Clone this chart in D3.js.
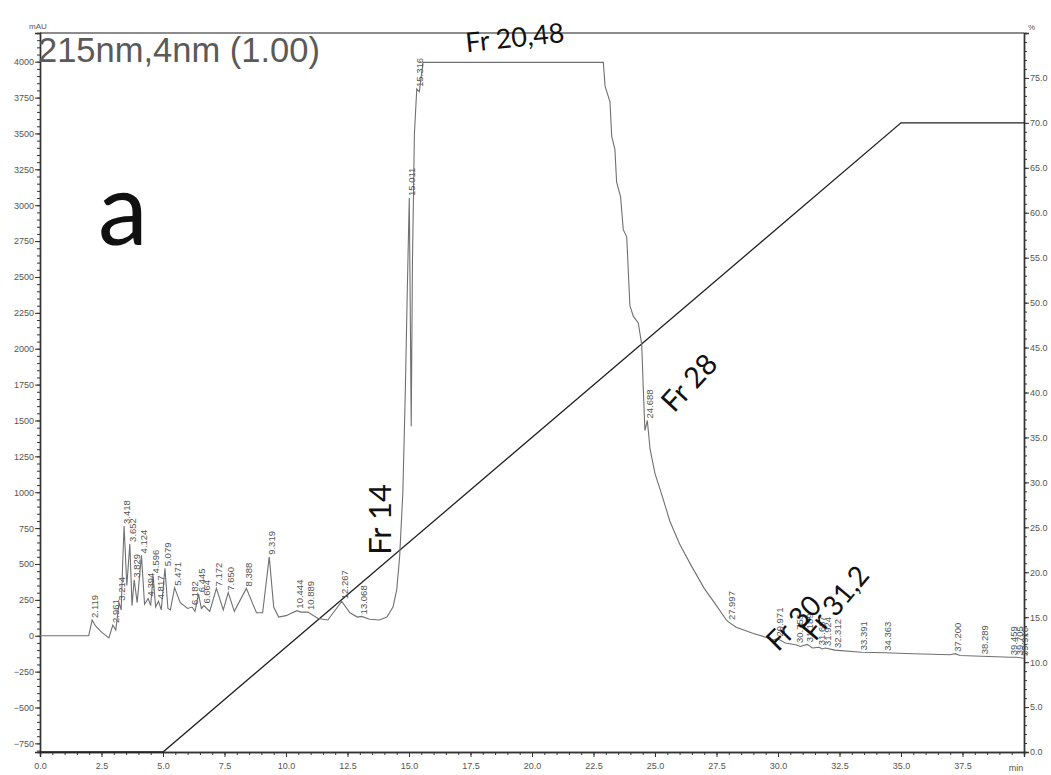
<!DOCTYPE html>
<html>
<head>
<meta charset="utf-8">
<script src="https://cdn.jsdelivr.net/npm/d3@7"></script>
<style>
  html, body { margin: 0; padding: 0; background: #fff; }
  svg { display: block; }
</style>
</head>
<body>
<svg id="chart" width="1051" height="775"></svg>
<script>
// Chromatogram trace: retention time (min) and detector signal (mAU)
const traceTime = [
  0, 1.98, 2.03, 2.119, 2.25, 2.5, 2.8, 2.961, 3.08, 3.214, 3.3, 3.36, 3.418, 3.53, 3.652, 3.74,
  3.829, 3.95, 4.124, 4.25, 4.394, 4.5, 4.596, 4.7, 4.817, 4.93, 5.079, 5.2, 5.3, 5.471, 5.7, 6.0,
  6.182, 6.3, 6.445, 6.56, 6.664, 6.9, 7.172, 7.45, 7.65, 7.9, 8.388, 8.8, 9.05, 9.319, 9.5, 9.7,
  10.0, 10.444, 10.6, 10.889, 11.3, 11.7, 12.267, 12.6, 12.9, 13.068, 13.4, 13.8, 14.1, 14.35,
  14.5, 14.62, 14.75, 14.85, 14.93, 15.011, 15.05, 15.09, 15.14, 15.22, 15.316, 15.42, 15.5, 15.57,
  22.9, 22.97, 23.17, 23.24, 23.37, 23.44, 23.6, 23.71, 23.85, 23.98, 24.12, 24.32, 24.46, 24.52,
  24.59, 24.688, 24.8, 25.0, 25.3, 25.6, 26.0, 26.5, 27.0, 27.5, 27.9, 27.997, 28.3, 29.0, 29.5,
  29.8, 29.971, 30.3, 30.755, 30.9, 31.189, 31.4, 31.667, 31.8, 31.924, 32.312, 33.391, 34.363,
  35.5, 37.0, 37.2, 37.4, 38.289, 39.459, 39.705, 39.916, 40
];
const traceSignal = [
  0, 0, 40, 110, 70, 25, -15, 75, 40, 230, 180, 500, 765, 350, 640, 210,
  390, 230, 560, 220, 260, 210, 420, 200, 240, 180, 470, 190, 180, 335, 230, 190,
  200, 170, 290, 190, 210, 170, 330, 180, 300, 170, 330, 160, 160, 550, 200, 130,
  140, 175, 165, 165, 120, 110, 240, 160, 130, 135, 115, 110, 130, 200,
  320, 550, 1000, 1700, 2400, 3050, 2300, 1460, 2600, 3500, 3810, 3790, 3900, 3995,
  3995, 3830, 3720, 3480, 3390, 3160, 3060, 2830, 2780, 2300, 2225, 2180, 2030, 1740,
  1430, 1500, 1300, 1130, 970, 800, 640, 480, 330, 210, 110, 95, 60, 15, -10,
  -30, -20, -50, -65, -75, -60, -85, -80, -92, -85, -100, -115, -118,
  -125, -132, -125, -138, -143, -150, -150, -155, -158
];

// Integrated peaks (retention times printed above each peak)
const peakTimes = [
  2.119, 2.961, 3.214, 3.418, 3.652, 3.829, 4.124, 4.394, 4.596, 4.817, 5.079, 5.471,
  6.182, 6.445, 6.664, 7.172, 7.650, 8.388, 9.319, 10.444, 10.889, 12.267, 13.068,
  15.011, 15.316, 24.688, 27.997, 29.971, 30.755, 31.189, 31.667, 31.924, 32.312,
  33.391, 34.363, 37.200, 38.289, 39.459, 39.705, 39.916
];

// Solvent B gradient program (min, %)
const gradTime = [0, 5.0, 35.0, 40.0];
const gradPercent = [0, 0, 70, 70];

// Axis ticks
const timeTicks = [0, 2.5, 5, 7.5, 10, 12.5, 15, 17.5, 20, 22.5, 25, 27.5, 30, 32.5, 35, 37.5];
const signalTicks = [-750, -500, -250, 0, 250, 500, 750, 1000, 1250, 1500, 1750, 2000, 2250, 2500,
  2750, 3000, 3250, 3500, 3750, 4000];
const percentTicks = [0, 5, 10, 15, 20, 25, 30, 35, 40, 45, 50, 55, 60, 65, 70, 75];

// Fraction annotations
const fractionLabels = ["Fr 20,48", "Fr 14", "Fr 28", "Fr 30", "Fr 31,2"];
const fractionTimes = [19.3, 13.8, 26.35, 30.6, 32.3];
const fractionSignals = [4175, 810, 1770, 95, 235];
const fractionAngles = [-6, -90, -47, -45, -50];
const fractionSizes = [27, 31, 29, 28, 28];

const svg = d3.select("#chart");
const plotLeft = 40, plotRight = 1024, plotTop = 33, plotBottom = 752;

const x = d3.scaleLinear().domain([0, 40]).range([plotLeft, plotRight]);
const y = d3.scaleLinear().domain([-810, 4200]).range([plotBottom, plotTop]);
const yR = d3.scaleLinear().domain([0, 80]).range([plotBottom, plotTop]);

const tickFont = "'Liberation Sans', Arial, sans-serif";

function styleAxis(g) {
  g.selectAll("path").attr("stroke", "#333").attr("stroke-width", 1.4);
  g.selectAll("line").attr("stroke", "#333");
  g.selectAll("text").attr("fill", "#555").attr("font-size", 9).attr("font-family", tickFont);
}

// top frame line
svg.append("line")
  .attr("x1", plotLeft).attr("x2", plotRight).attr("y1", plotTop).attr("y2", plotTop)
  .attr("stroke", "#666").attr("stroke-width", 1.4);

// minor ticks
svg.append("g").attr("transform", `translate(${plotLeft},0)`)
  .call(d3.axisLeft(y).tickValues(d3.range(-800, 4201, 50)).tickSize(3).tickFormat(""))
  .call(styleAxis);
svg.append("g").attr("transform", `translate(0,${plotBottom})`)
  .call(d3.axisBottom(x).tickValues(d3.range(0, 40.01, 0.5)).tickSize(3).tickFormat(""))
  .call(styleAxis);
svg.append("g").attr("transform", `translate(${plotRight},0)`)
  .call(d3.axisRight(yR).tickValues(d3.range(0, 80.01, 1)).tickSize(3).tickFormat(""))
  .call(styleAxis);

// major ticks
svg.append("g").attr("transform", `translate(${plotLeft},0)`)
  .call(d3.axisLeft(y).tickValues(signalTicks).tickSize(5).tickPadding(1).tickFormat(d3.format("d")))
  .call(styleAxis);
svg.append("g").attr("transform", `translate(0,${plotBottom})`)
  .call(d3.axisBottom(x).tickValues(timeTicks).tickSize(5).tickPadding(6).tickFormat(d3.format(".1f")))
  .call(styleAxis);
svg.append("g").attr("transform", `translate(${plotRight},0)`)
  .call(d3.axisRight(yR).tickValues(percentTicks).tickSize(5).tickPadding(1).tickFormat(d3.format(".1f")))
  .call(styleAxis);

// axis unit labels
svg.append("text").attr("x", 29).attr("y", 29).text("mAU")
  .attr("font-family", tickFont).attr("font-size", 8).attr("fill", "#555");
svg.append("text").attr("x", 1028).attr("y", 30).text("%")
  .attr("font-family", tickFont).attr("font-size", 8).attr("fill", "#555");
svg.append("text").attr("x", 1016).attr("y", 771).attr("text-anchor", "middle").text("min")
  .attr("font-family", tickFont).attr("font-size", 9).attr("fill", "#555");

// gradient line
const gradLine = d3.line().x((d, i) => x(gradTime[i])).y((d, i) => yR(gradPercent[i]));
svg.append("path").datum(gradTime).attr("d", gradLine)
  .attr("fill", "none").attr("stroke", "#222").attr("stroke-width", 1.3);

// chromatogram
const traceLine = d3.line().x((d, i) => x(traceTime[i])).y((d, i) => y(traceSignal[i]));
svg.append("path").datum(traceTime).attr("d", traceLine)
  .attr("fill", "none").attr("stroke", "#707070").attr("stroke-width", 1.1);

// peak retention-time labels
const signalAt = t => {
  const i = traceTime.indexOf(t);
  if (i >= 0) return traceSignal[i];
  const j = d3.bisectLeft(traceTime, t);
  const t0 = traceTime[j - 1], t1 = traceTime[j];
  return traceSignal[j - 1] + (traceSignal[j] - traceSignal[j - 1]) * (t - t0) / (t1 - t0);
};
svg.append("g").selectAll("text").data(peakTimes).join("text")
  .attr("transform", d => `translate(${x(d) + 6},${y(signalAt(d)) - 2}) rotate(-90)`)
  .attr("font-family", tickFont).attr("font-size", 9.5).attr("fill", "#555")
  .text(d => d3.format(".3f")(d));

// detector channel title
svg.append("text").attr("x", 38).attr("y", 62).text("215nm,4nm (1.00)")
  .attr("font-family", tickFont).attr("font-size", 34.5).attr("fill", "#5a5a5a");

// panel letter
svg.append("text").attr("x", 98).attr("y", 245).text("a")
  .attr("font-family", "Lato, 'Open Sans', sans-serif").attr("font-size", 100).attr("fill", "#111");

// fraction annotations
svg.append("g").selectAll("text").data(fractionLabels).join("text")
  .attr("transform", (d, i) => `translate(${x(fractionTimes[i])},${y(fractionSignals[i])}) rotate(${fractionAngles[i]})`)
  .attr("text-anchor", "middle").attr("dominant-baseline", "central")
  .attr("font-family", "Lato, 'Open Sans', sans-serif")
  .attr("font-size", (d, i) => fractionSizes[i]).attr("fill", "#111")
  .text(d => d);
</script>
</body>
</html>
